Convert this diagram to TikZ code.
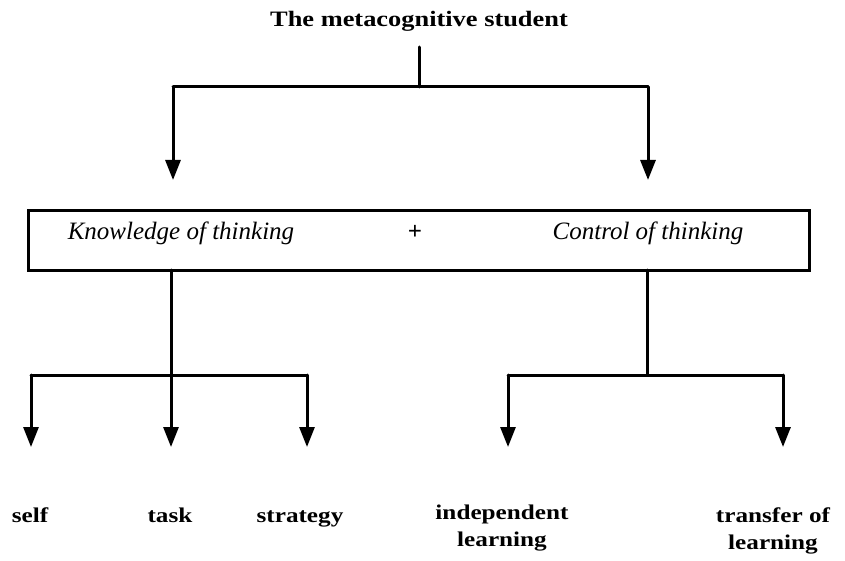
\documentclass[tikz,border=0pt]{standalone}
\usepackage{fontspec}
\setmainfont{Liberation Serif}
\newfontfamily\widefont{Liberation Serif}[FakeStretch=1.2]
\usetikzlibrary{arrows.meta}
\begin{document}
\begin{tikzpicture}[x=1pt,y=-1pt,
  link/.style={line width=3pt,line cap=round,line join=round},
  arr/.style={link,-{Triangle[width=15pt,length=20pt]}},
  leaf/.style={font=\widefont\fontsize{21}{27}\selectfont\bfseries,align=center,anchor=base,inner sep=0pt},
  topic/.style={font=\fontsize{25}{28}\selectfont\itshape,anchor=base,inner sep=0pt}]
\useasboundingbox (0,0) rectangle (845,561);
% title and first split
\node[font=\widefont\fontsize{22}{24}\selectfont\bfseries,anchor=base,inner sep=0pt] (title) at (419,27) {The metacognitive student};
\coordinate (t0) at (419,47);
\coordinate (tj) at (419,87);
\coordinate (tl) at (173,87);
\coordinate (tr) at (648,87);
\coordinate (tla) at (173,180);
\coordinate (tra) at (648,180);
\draw[link] (t0) -- (tj);
\draw[link] (tl) -- (tr);
\draw[arr] (tl) -- (tla);
\draw[arr] (tr) -- (tra);
% central box
\node[draw,line width=3pt,minimum width=781pt,minimum height=59pt,inner sep=0pt] (box) at (418.5,240.5) {};
\node[topic] (know) at (181,240) {Knowledge of thinking};
\node[topic,font=\fontsize{25}{28}\selectfont\bfseries] (plus) at (415,240) {+};
\node[topic] (ctrl) at (648,240) {Control of thinking};
% knowledge branch
\coordinate (kb) at (171,270);
\coordinate (kj) at (171,375);
\coordinate (kl) at (31,375);
\coordinate (kr) at (307,375);
\draw[link] (kb) -- (kj);
\draw[link] (kl) -- (kr);
\draw[arr] (kl) -- (31,447);
\draw[arr] (kj) -- (171,447);
\draw[arr] (kr) -- (307,447);
% control branch
\coordinate (cb) at (647,270);
\coordinate (cj) at (647,375);
\coordinate (cl) at (508,375);
\coordinate (cr) at (783,375);
\draw[link] (cb) -- (cj);
\draw[link] (cl) -- (cr);
\draw[arr] (cl) -- (508,447);
\draw[arr] (cr) -- (783,447);
% leaf labels (two-line nodes sit on the baseline of their last line)
\node[leaf] (self) at (30,522) {self};
\node[leaf] (task) at (170,522) {task};
\node[leaf] (strat) at (300,522) {strategy};
\node[leaf] (indep) at (502,546) {independent\\learning};
\node[leaf] (trans) at (773,549) {transfer of\\learning};
\end{tikzpicture}
\end{document}
